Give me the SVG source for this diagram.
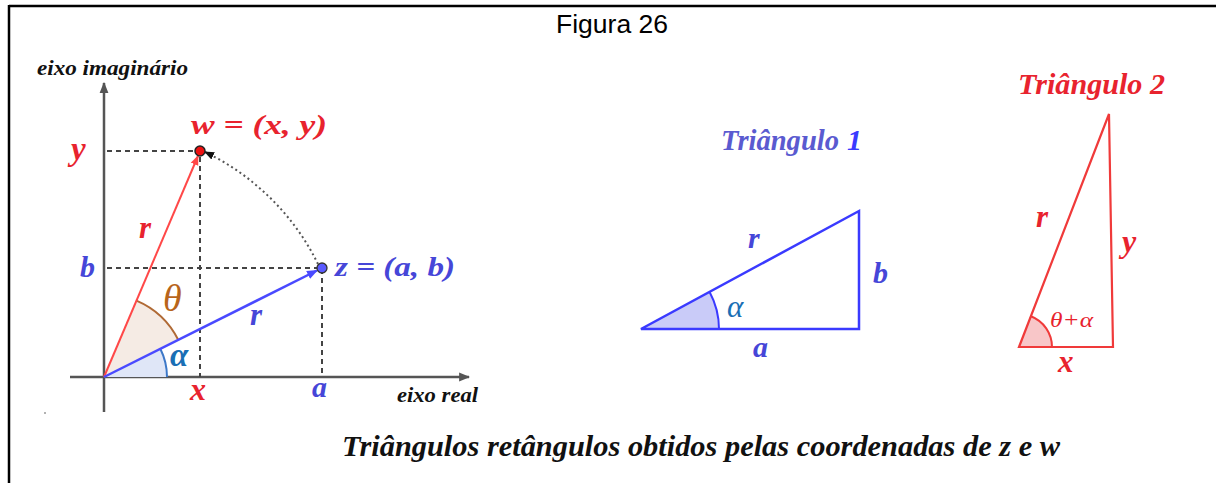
<svg xmlns="http://www.w3.org/2000/svg" width="1216" height="483" viewBox="0 0 1216 483">
<defs>
<style>
.m{font-family:"Liberation Serif","Times New Roman",serif;font-style:italic;font-weight:bold}
.n{font-family:"Liberation Serif","Times New Roman",serif;font-style:italic}
.red{fill:#e8232e}
.blue{fill:#4646d8}
.ax{stroke:#555;stroke-width:2.5;fill:none}
.dash{stroke:#444;stroke-width:2;stroke-dasharray:5,4;fill:none}
</style>
<marker id="ahAx2" viewBox="0 0 10 10" refX="9" refY="5" markerWidth="11" markerHeight="11" orient="auto" markerUnits="userSpaceOnUse"><path d="M0,1 L10,5 L0,9 z" fill="#555"/></marker>
<marker id="ahR" viewBox="0 0 10 10" refX="9" refY="5" markerWidth="10" markerHeight="10" orient="auto" markerUnits="userSpaceOnUse"><path d="M0,1 L10,5 L0,9 z" fill="#ff4848"/></marker>
<marker id="ahB" viewBox="0 0 10 10" refX="9" refY="5" markerWidth="11" markerHeight="11" orient="auto" markerUnits="userSpaceOnUse"><path d="M0,1 L10,5 L0,9 z" fill="#4a4aff"/></marker>
<marker id="ahK" viewBox="0 0 10 10" refX="9" refY="5" markerWidth="10" markerHeight="10" orient="auto" markerUnits="userSpaceOnUse"><path d="M0,1 L10,5 L0,9 z" fill="#111"/></marker>
</defs>
<rect width="1216" height="483" fill="#fff"/>
<g id="frame">
<line x1="9" y1="6" x2="1216" y2="6" stroke="#000" stroke-width="2.5"/>
<line x1="9" y1="5" x2="9" y2="483" stroke="#000" stroke-width="2.5"/>
</g>
<text id="title" x="556" y="33" font-family="Liberation Sans, Arial, sans-serif" font-size="25" fill="#000" textLength="112" lengthAdjust="spacingAndGlyphs">Figura 26</text>

<g id="plane">
<g id="axes">
<line class="ax" x1="104" y1="412" x2="104" y2="83" marker-end="url(#ahAx2)"/>
<line class="ax" x1="70" y1="377" x2="469" y2="377" marker-end="url(#ahAx2)"/>
<text class="m" x="37" y="75" font-size="21" fill="#111" textLength="151" lengthAdjust="spacingAndGlyphs">eixo imaginário</text>
<text class="m" x="397" y="402" font-size="21" fill="#111" textLength="81" lengthAdjust="spacingAndGlyphs">eixo real</text>
</g>
<g id="sectors">
<path d="M104 377 L178.2 339.8 A83 83 0 0 0 136.4 300.6 Z" fill="#f5ebe4" stroke="none"/>
<path d="M178.2 339.8 A83 83 0 0 0 136.4 300.6" fill="none" stroke="#b06a35" stroke-width="2"/>
<path d="M104 377 L167 377 A63 63 0 0 0 160.3 348.8 Z" fill="#dfe6f7" stroke="none"/>
<path d="M167 377 A63 63 0 0 0 160.3 348.8" fill="none" stroke="#3c78c8" stroke-width="2"/>
</g>
<g id="connectors">
<path class="dash" d="M107 151 H200 V377"/>
<path class="dash" d="M107 268 H322 V377"/>
<line x1="104" y1="377" x2="198" y2="156" stroke="#ff4848" stroke-width="2" marker-end="url(#ahR)"/>
<line x1="104" y1="377" x2="317" y2="270.5" stroke="#4a4aff" stroke-width="2.5" marker-end="url(#ahB)"/>
<path d="M318 264 A244 244 0 0 0 205 152" fill="none" stroke="#555" stroke-width="2" stroke-dasharray="2,3" marker-end="url(#ahK)"/>
</g>
<g id="w">
<circle cx="200" cy="151" r="5" fill="#ee1111" stroke="#222" stroke-width="1.5"/>
<text class="m red" x="191" y="134" font-size="28" textLength="136" lengthAdjust="spacingAndGlyphs">w = (x, y)</text>
</g>
<g id="z">
<circle cx="322" cy="268" r="5" fill="#5a5aff" stroke="#333" stroke-width="1.3"/>
<text class="m blue" x="335" y="276" font-size="28" textLength="120" lengthAdjust="spacingAndGlyphs">z = (a, b)</text>
</g>
<g id="labels">
<text class="m red" x="71" y="160" font-size="33">y</text>
<text class="m blue" x="80" y="277" font-size="30">b</text>
<text class="m red" x="190" y="400" font-size="32">x</text>
<text class="m blue" x="312" y="397" font-size="30">a</text>
<text class="m red" x="139" y="238" font-size="31">r</text>
<text class="m blue" x="250" y="325" font-size="31">r</text>
<text class="n" x="163" y="311" font-size="38" fill="#b8651b">θ</text>
<text class="m" x="170" y="366" font-size="33" fill="#1a6fb5">α</text>
<circle cx="45" cy="413" r="1" fill="#999"/>
</g>
</g>

<g id="triangle1">
<text class="m" x="721" y="150" font-size="30" fill="#5a5ad0" textLength="118" lengthAdjust="spacingAndGlyphs">Triângulo</text>
<text class="m" x="847" y="150" font-size="30" fill="#3a3aff">1</text>
<path d="M641 329 L719 329 A78 78 0 0 0 709.6 291.9 Z" fill="#c9cbf8"/>
<path d="M719 329 A78 78 0 0 0 709.6 291.9" fill="none" stroke="#3a3aff" stroke-width="2"/>
<path d="M641 329 L859 329 L859 211 Z" fill="none" stroke="#3a3aff" stroke-width="2.5"/>
<text class="m blue" x="748" y="248" font-size="30">r</text>
<text class="m blue" x="873" y="283" font-size="30">b</text>
<text class="m blue" x="753" y="357" font-size="30">a</text>
<text class="n" x="727" y="317" font-size="31" fill="#1a6fb5">α</text>
</g>

<g id="triangle2">
<text class="m red" x="1018" y="94" font-size="30" textLength="147" lengthAdjust="spacingAndGlyphs">Triângulo 2</text>
<path d="M1019 347 L1052 347 A33 33 0 0 0 1030.9 316.2 Z" fill="#f8c6c8"/>
<path d="M1052 347 A33 33 0 0 0 1030.9 316.2" fill="none" stroke="#f03a3a" stroke-width="2"/>
<path d="M1019 347 L1113 347 L1109 114 Z" fill="none" stroke="#f03a3a" stroke-width="2.2"/>
<text class="m red" x="1036" y="227" font-size="31">r</text>
<text class="m red" x="1122" y="252" font-size="32">y</text>
<text class="n" x="1050" y="327" font-size="21" fill="#e8232e" textLength="43" lengthAdjust="spacingAndGlyphs">θ+α</text>
<text class="m red" x="1058" y="372" font-size="31">x</text>
</g>

<text id="caption" class="m" x="342" y="456" font-size="29" fill="#111" textLength="718" lengthAdjust="spacingAndGlyphs">Triângulos retângulos obtidos pelas coordenadas de z e w</text>
</svg>
